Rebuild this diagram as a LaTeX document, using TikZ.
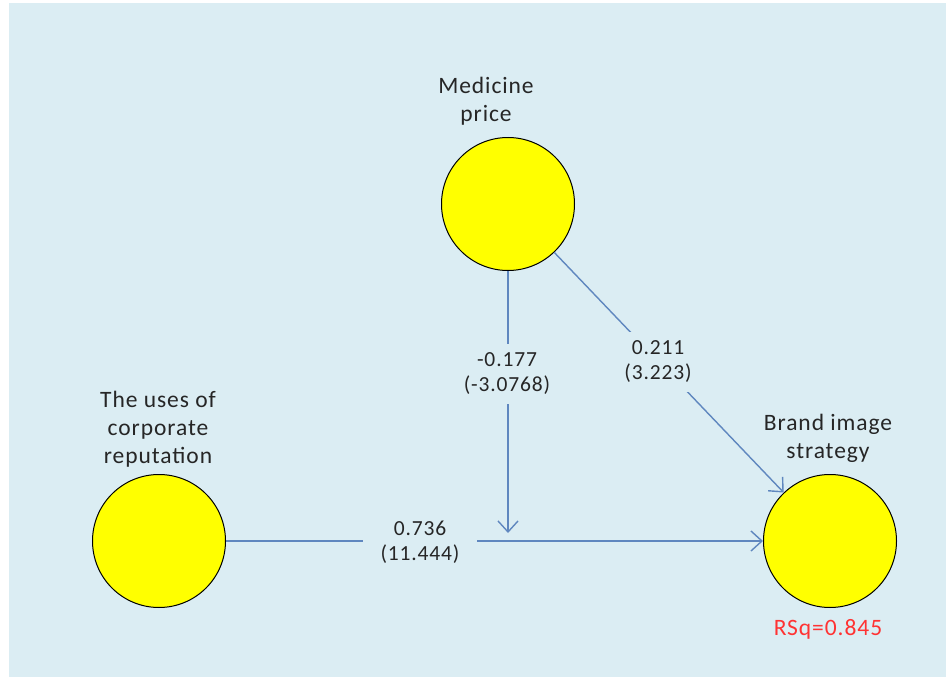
\documentclass[tikz,border=0pt]{standalone}
\usepackage{fontspec}
\setmainfont{Carlito}
\newfontfamily\spacedfont[LetterSpace=4]{Carlito}
\usetikzlibrary{arrows.meta}
\definecolor{panel}{HTML}{DBEDF3}
\definecolor{linkblue}{HTML}{5F87BF}
\definecolor{latent}{HTML}{FFFF00}
\definecolor{txt}{HTML}{262626}
\definecolor{rsq}{HTML}{FF3333}
\tikzset{
  construct/.style={circle, draw=black, line width=1pt, fill=latent, minimum size=133pt, inner sep=0pt},
  title/.style={align=center, text=txt, font=\spacedfont\fontsize{23.5}{28}\selectfont, inner sep=0pt},
  coef/.style={align=center, text=txt, font=\spacedfont\fontsize{21.5}{25}\selectfont, fill=panel, inner ysep=9pt, inner xsep=18pt},
  link/.style={draw=linkblue, line width=1.4pt, -{Straight Barb[length=11pt,width=20pt,line width=1.4pt]}},
}
\begin{document}
\begin{tikzpicture}[x=1pt,y=-1pt]
  \useasboundingbox (0,0) rectangle (946,677);
  \fill[white] (0,0) rectangle (946,677);
  \fill[panel] (9,3) rectangle (946,677);

  % latent constructs
  \node[construct] (price) at (508,204) {};
  \node[construct] (rep)   at (159,541) {};
  \node[construct] (brand) at (830,541) {};

  % construct names
  \node[title] (tprice) at (486,101) {Medicine\\price};
  \node[title] (trep)   at (158,429) {The uses of\\corporate\\reputation};
  \node[title] (tbrand) at (828,438) {Brand image\\strategy};
  \node[text=rsq, font=\spacedfont\fontsize{23.5}{28}\selectfont, inner sep=0pt] (rsq) at (828,629) {RSq=0.845};

  % structural paths
  \coordinate (meet) at (508,533);
  \draw[link] (rep) -- (brand);
  \draw[link] (price) -- (meet);
  \draw[link] (price) -- (brand);

  % path coefficients (t-values)
  \node[coef] (c1) at (420,542) {0.736\\(11.444)};
  \node[coef, inner xsep=6pt] (c2) at (507,374) {-0.177\\(-3.0768)};
  \node[coef] (c3) at (658,362) {0.211\\(3.223)};
\end{tikzpicture}
\end{document}
